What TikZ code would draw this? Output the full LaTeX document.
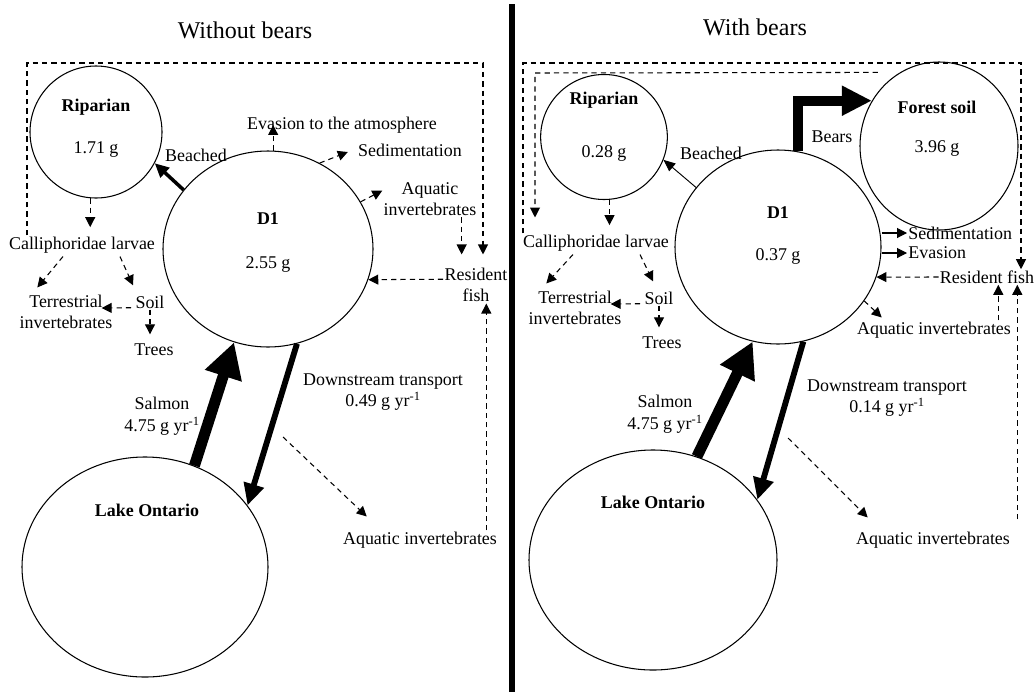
\documentclass[tikz,border=0pt]{standalone}
\usepackage{fontspec}
\setmainfont{Liberation Serif}
\usetikzlibrary{shapes.geometric,arrows.meta,calc}

\tikzset{
  txt/.style={font=\fontsize{15.3}{18.5}\selectfont, inner sep=1pt, align=center},
  poolname/.style={txt, font=\fontsize{15.3}{18.5}\selectfont\bfseries},
  heading/.style={font=\fontsize{20.5}{24}\selectfont, inner sep=1pt},
  pool/.style={draw, ellipse, line width=0.9pt, inner sep=0pt},
  dflow/.style={line width=0.9pt, dash pattern=on 4.5pt off 3.5pt, -{Triangle[length=8.5pt,width=8.5pt]}},
  sflow/.style={line width=0.9pt, -{Triangle[length=8.5pt,width=8.5pt]}},
  runflow/.style={line width=9.4pt, -{Triangle[length=30pt,width=31pt]}},
  bearflow/.style={line width=8.5pt, line join=miter, -{Triangle[length=25.6pt,width=24pt]}},
  dstream/.style={line width=5pt, -{Triangle[length=18.5pt,width=17pt]}},
  beachthick/.style={line width=3pt, -{Triangle[length=12pt,width=11pt]}},
  beachthin/.style={line width=0.8pt, -{Triangle[length=10pt,width=8.5pt]}}
}

\begin{document}
\begin{tikzpicture}[x=0.03cm, y=-0.03cm]
        \useasboundingbox (0,0) rectangle (1034,692);

        % without bears
        \node[heading] (headL) at (245,30) {Without bears};
        \node[pool, minimum width=3.96cm, minimum height=3.96cm] (riparianL) at (96,132) {};
        \node[poolname] (riparianLname) at (96,107) {Riparian};
        \node[txt] (riparianLmass) at (96,150) {1.71 g};
        \node[pool, minimum width=6.3cm, minimum height=5.88cm] (dOneL) at (268,249) {};
        \node[poolname] (dOneLname) at (268,219) {D1};
        \node[txt] (dOneLmass) at (268,264) {2.55 g};
        \node[pool, minimum width=7.38cm, minimum height=6.6cm] (lakeL) at (145,567) {};
        \node[poolname] (lakeLname) at (147,510) {Lake Ontario};

        \node[txt] (evasionL) at (342,125) {Evasion to the atmosphere};
        \node[txt] (sedL) at (410,150) {Sedimentation};
        \node[txt] (aqupL) at (430,199) {Aquatic\\invertebrates};
        \node[txt] (fishL) at (476,285) {Resident\\fish};
        \node[txt] (callL) at (82,245) {Calliphoridae larvae};
        \node[txt] (terrL) at (66,312) {Terrestrial\\invertebrates};
        \node[txt] (soilL) at (150,302) {Soil};
        \node[txt] (treesL) at (154,350) {Trees};
        \node[txt] (beachedL) at (196,155) {Beached};
        \node[txt] (salmonL) at (162,416) {Salmon\\4.75 g yr\textsuperscript{-1}};
        \node[txt] (downL) at (383,392) {Downstream transport\\0.49 g yr\textsuperscript{-1}};
        \node[txt] (aqlowL) at (420,540) {Aquatic invertebrates};

        \coordinate (loopLa) at (27,63);
        \coordinate (loopLb) at (483,63);
        \coordinate (branchL) at (283,437);
        \coordinate (riseL) at ($(aqlowL.north east)+(-12,0)$);

        \draw[beachthick] (dOneL.145) -- (riparianL.-28);
        \draw[runflow] (lakeL.64) -- (dOneL.250);
        \draw[dstream] (dOneL.287) -- (lakeL.31);
        \draw[dflow] (dOneL.87) -- (dOneL.87 |- evasionL.center);
        \draw[dflow] (dOneL.59) -- ($(sedL.west)+(-9,2)$);
        \draw[dflow] (dOneL.27) -- (aqupL.170);
        \draw[dflow, shorten >=0.36cm] (aqupL.-30) -- (fishL.north -| aqupL.-30);
        \draw[dflow] (fishL.170) -- (dOneL.-17);
        \draw[dflow] (riseL) -- (fishL.south -| riseL);
        \draw[dflow, shorten >=0.36cm] (callL.north -| loopLa) -- (loopLa) -- (loopLb) -- (fishL.north -| loopLb);
        \draw[dflow, shorten >=0.25cm] (riparianL.-95) -- (callL.north -| riparianL.-95);
        \draw[dflow] ($(callL.south)+(-19,2)$) -- ($(terrL.north west)+(19,-6)$);
        \draw[dflow] ($(callL.south)+(38,2)$) -- ($(soilL.north)+(-17,-9)$);
        \draw[dflow] ($(soilL.south west)+(-3,-2)$) -- ($(terrL.east)+(-12,-4)$);
        \draw[dflow, shorten >=0.25cm] (soilL.south) -- (treesL.north -| soilL.south);
        \draw[dflow] (branchL) -- ($(aqlowL.north west)+(25,-14)$);

        \draw[line width=4.3pt] (512,4) -- (512,692);

        % with bears
        \node[heading] (headR) at (755,27) {With bears};
        \node[pool, minimum width=3.8cm, minimum height=3.75cm] (riparianR) at (604,137) {};
        \node[poolname] (riparianRname) at (604,100) {Riparian};
        \node[txt] (riparianRmass) at (604,153) {0.28 g};
        \node[pool, minimum width=4.74cm, minimum height=5.04cm] (forestR) at (939,146) {};
        \node[poolname] (forestRname) at (937,107) {Forest soil};
        \node[txt] (forestRmass) at (937,148) {3.96 g};
        \node[pool, minimum width=6.18cm, minimum height=5.82cm] (dOneR) at (778,247) {};
        \node[poolname] (dOneRname) at (778,213) {D1};
        \node[txt] (dOneRmass) at (778,256) {0.37 g};
        \node[pool, minimum width=7.44cm, minimum height=6.6cm] (lakeR) at (653,560) {};
        \node[poolname] (lakeRname) at (653,502) {Lake Ontario};

        \node[txt, anchor=west] (sedR) at (907,233) {Sedimentation};
        \node[txt, anchor=west] (evaR) at (907,253) {Evasion};
        \node[txt] (fishR) at (987,277) {Resident fish};
        \node[txt] (aqupR) at (934,330) {Aquatic invertebrates};
        \node[txt] (callR) at (596,243) {Calliphoridae larvae};
        \node[txt] (terrR) at (575,308) {Terrestrial\\invertebrates};
        \node[txt] (soilR) at (659,298) {Soil};
        \node[txt] (treesR) at (662,343) {Trees};
        \node[txt] (beachedR) at (711,153) {Beached};
        \node[txt] (bearsR) at (832,137) {Bears};
        \node[txt] (salmonR) at (665,414) {Salmon\\4.75 g yr\textsuperscript{-1}};
        \node[txt] (downR) at (887,398) {Downstream transport\\0.14 g yr\textsuperscript{-1}};
        \node[txt] (aqlowR) at (933,540) {Aquatic invertebrates};

        \coordinate (loopRa) at (523,63);
        \coordinate (loopRb) at (1021,63);
        \coordinate (innerR) at (535,73);
        \coordinate (branchR) at (788,438);
        \coordinate (riseRa) at ($(aqupR.north east)+(-14,0)$);
        \coordinate (riseRb) at ($(aqlowR.north east)+(6,-11)$);

        \draw[beachthin] (dOneR.144) -- (riparianR.-21);
        \draw[bearflow] (dOneR.78) |- (forestR.146);
        \draw[runflow] (lakeR.67) -- (dOneR.255);
        \draw[dstream] (dOneR.285) -- (lakeR.30);
        \draw[sflow] (dOneR.east |- sedR.west) -- (sedR.west);
        \draw[sflow] (dOneR.east |- evaR.west) -- (evaR.west);
        \draw[dflow] (fishR.west) -- (dOneR.-17);
        \draw[dflow] (dOneR.-32) -- ($(aqupR.north west)+(26,-3)$);
        \draw[dflow] (riseRa) -- (fishR.south -| riseRa);
        \draw[dflow] (riseRb) -- (fishR.south -| riseRb);
        \draw[dflow] (callR.north -| loopRa) -- (loopRa) -- (loopRb) -- (fishR.north -| loopRb);
        \draw[dflow, shorten >=0.48cm] ($(forestR.118)+(-22,0)$) -- (innerR) -- (callR.north -| innerR);
        \draw[dflow, shorten >=0.25cm] (riparianR.-85) -- (callR.north -| riparianR.-85);
        \draw[dflow] ($(callR.south)+(-23,2)$) -- ($(terrR.north west)+(19,-6)$);
        \draw[dflow] ($(callR.south)+(44,2)$) -- ($(soilR.north)+(-6,-9)$);
        \draw[dflow] ($(soilR.south west)+(-3,-2)$) -- ($(terrR.east)+(-12,-4)$);
        \draw[dflow, shorten >=0.25cm] (soilR.south) -- (treesR.north -| soilR.south);
        \draw[dflow] (branchR) -- ($(aqlowR.north west)+(13,-13)$);
    \end{tikzpicture}
\end{document}
